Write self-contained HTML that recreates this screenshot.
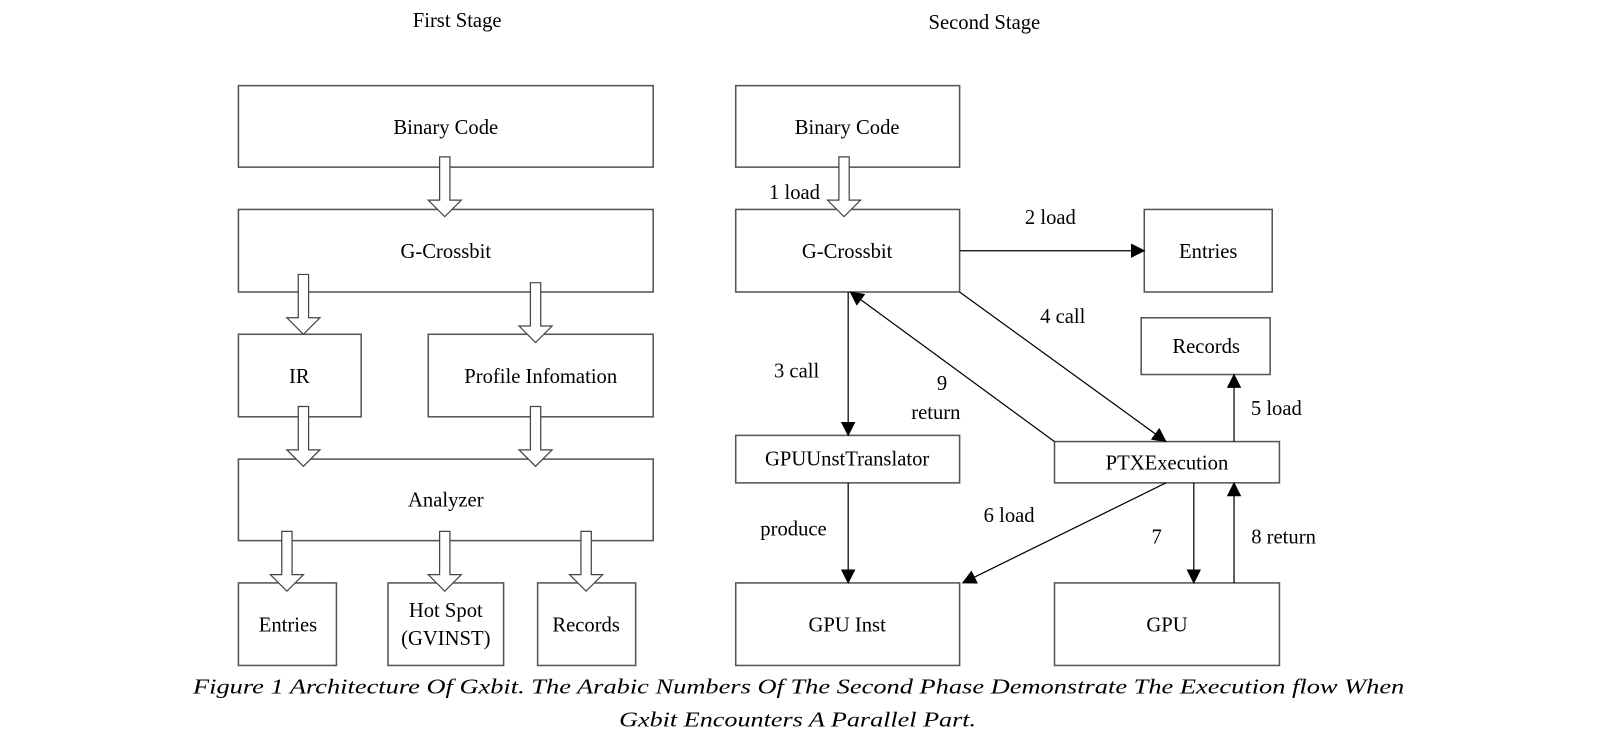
<!DOCTYPE html>
<html><head><meta charset="utf-8"><style>
html,body{margin:0;padding:0;background:#fff;}
svg{display:block;}
text{font-family:"Liberation Serif",serif;font-size:20px;fill:#000;}
</style></head><body>
<svg width="1620" height="748" viewBox="0 0 1570 725" xmlns="http://www.w3.org/2000/svg">
<defs>
<marker id="a" markerWidth="14" markerHeight="14" refX="13" refY="7" orient="auto" markerUnits="userSpaceOnUse">
<path d="M0,0 L14,7 L0,14 z" fill="#000"/></marker>
<g id="h"><path d="M-5,0 V42 H-16 L0,58 L16,42 H5 V0 z" fill="#fff" stroke="#444" stroke-width="1.2"/></g>
</defs>
<g fill="none" stroke="#555" stroke-width="1.5">
<rect x="231" y="83" width="402" height="79"/>
<rect x="231" y="203" width="402" height="80"/>
<rect x="231" y="324" width="119" height="80"/>
<rect x="415" y="324" width="218" height="80"/>
<rect x="231" y="445" width="402" height="79"/>
<rect x="231" y="565" width="95" height="80"/>
<rect x="376" y="565" width="112" height="80"/>
<rect x="521" y="565" width="95" height="80"/>
<rect x="713" y="83" width="217" height="79"/>
<rect x="713" y="203" width="217" height="80"/>
<rect x="1109" y="203" width="124" height="80"/>
<rect x="1106" y="308" width="125" height="55"/>
<rect x="713" y="422" width="217" height="46"/>
<rect x="1022" y="428" width="218" height="40"/>
<rect x="713" y="565" width="217" height="80"/>
<rect x="1022" y="565" width="218" height="80"/>
</g>
<use href="#h" x="431" y="152"/>
<use href="#h" x="294" y="266"/>
<use href="#h" x="519" y="274"/>
<use href="#h" x="294" y="394"/>
<use href="#h" x="519" y="394"/>
<use href="#h" x="278" y="515"/>
<use href="#h" x="431" y="515"/>
<use href="#h" x="568" y="515"/>
<use href="#h" x="818" y="152"/>
<g stroke="#000" stroke-width="1.2" fill="none" marker-end="url(#a)">
<line x1="930" y1="243" x2="1109" y2="243"/>
<line x1="822" y1="283" x2="822" y2="422"/>
<line x1="1022" y1="428" x2="824" y2="283"/>
<line x1="930" y1="283" x2="1130" y2="428"/>
<line x1="1196" y1="428" x2="1196" y2="363"/>
<line x1="822" y1="468" x2="822" y2="565"/>
<line x1="1130" y1="468" x2="933" y2="565"/>
<line x1="1157" y1="468" x2="1157" y2="565"/>
<line x1="1196" y1="565" x2="1196" y2="468"/>
</g>
<g text-anchor="middle">
<text x="443" y="26">First Stage</text>
<text x="954" y="28">Second Stage</text>
<text x="432" y="130">Binary Code</text>
<text x="432" y="250">G-Crossbit</text>
<text x="290" y="371">IR</text>
<text x="524" y="371">Profile Infomation</text>
<text x="432" y="491">Analyzer</text>
<text x="279" y="612">Entries</text>
<text x="432" y="598">Hot Spot</text>
<text x="432" y="625">(GVINST)</text>
<text x="568" y="612">Records</text>
<text x="821" y="130">Binary Code</text>
<text x="821" y="250">G-Crossbit</text>
<text x="1171" y="250">Entries</text>
<text x="1169" y="342">Records</text>
<text x="821" y="451">GPUUnstTranslator</text>
<text x="1131" y="455">PTXExecution</text>
<text x="821" y="612">GPU Inst</text>
<text x="1131" y="612">GPU</text>
<text x="770" y="193">1 load</text>
<text x="1018" y="217">2 load</text>
<text x="772" y="366">3 call</text>
<text x="1030" y="313">4 call</text>
<text x="913" y="378">9</text>
<text x="907" y="406">return</text>
<text x="1237" y="402">5 load</text>
<text x="769" y="519">produce</text>
<text x="978" y="506">6 load</text>
<text x="1121" y="527">7</text>
<text x="1244" y="527">8 return</text>
</g>
<text x="187" y="672" font-style="italic" font-size="23" textLength="1174" lengthAdjust="spacingAndGlyphs">Figure 1 Architecture Of Gxbit. The Arabic Numbers Of The Second Phase Demonstrate The Execution flow When</text>
<text x="600" y="704" font-style="italic" font-size="23" textLength="346" lengthAdjust="spacingAndGlyphs">Gxbit Encounters A Parallel Part.</text>
</svg>
</body></html>
